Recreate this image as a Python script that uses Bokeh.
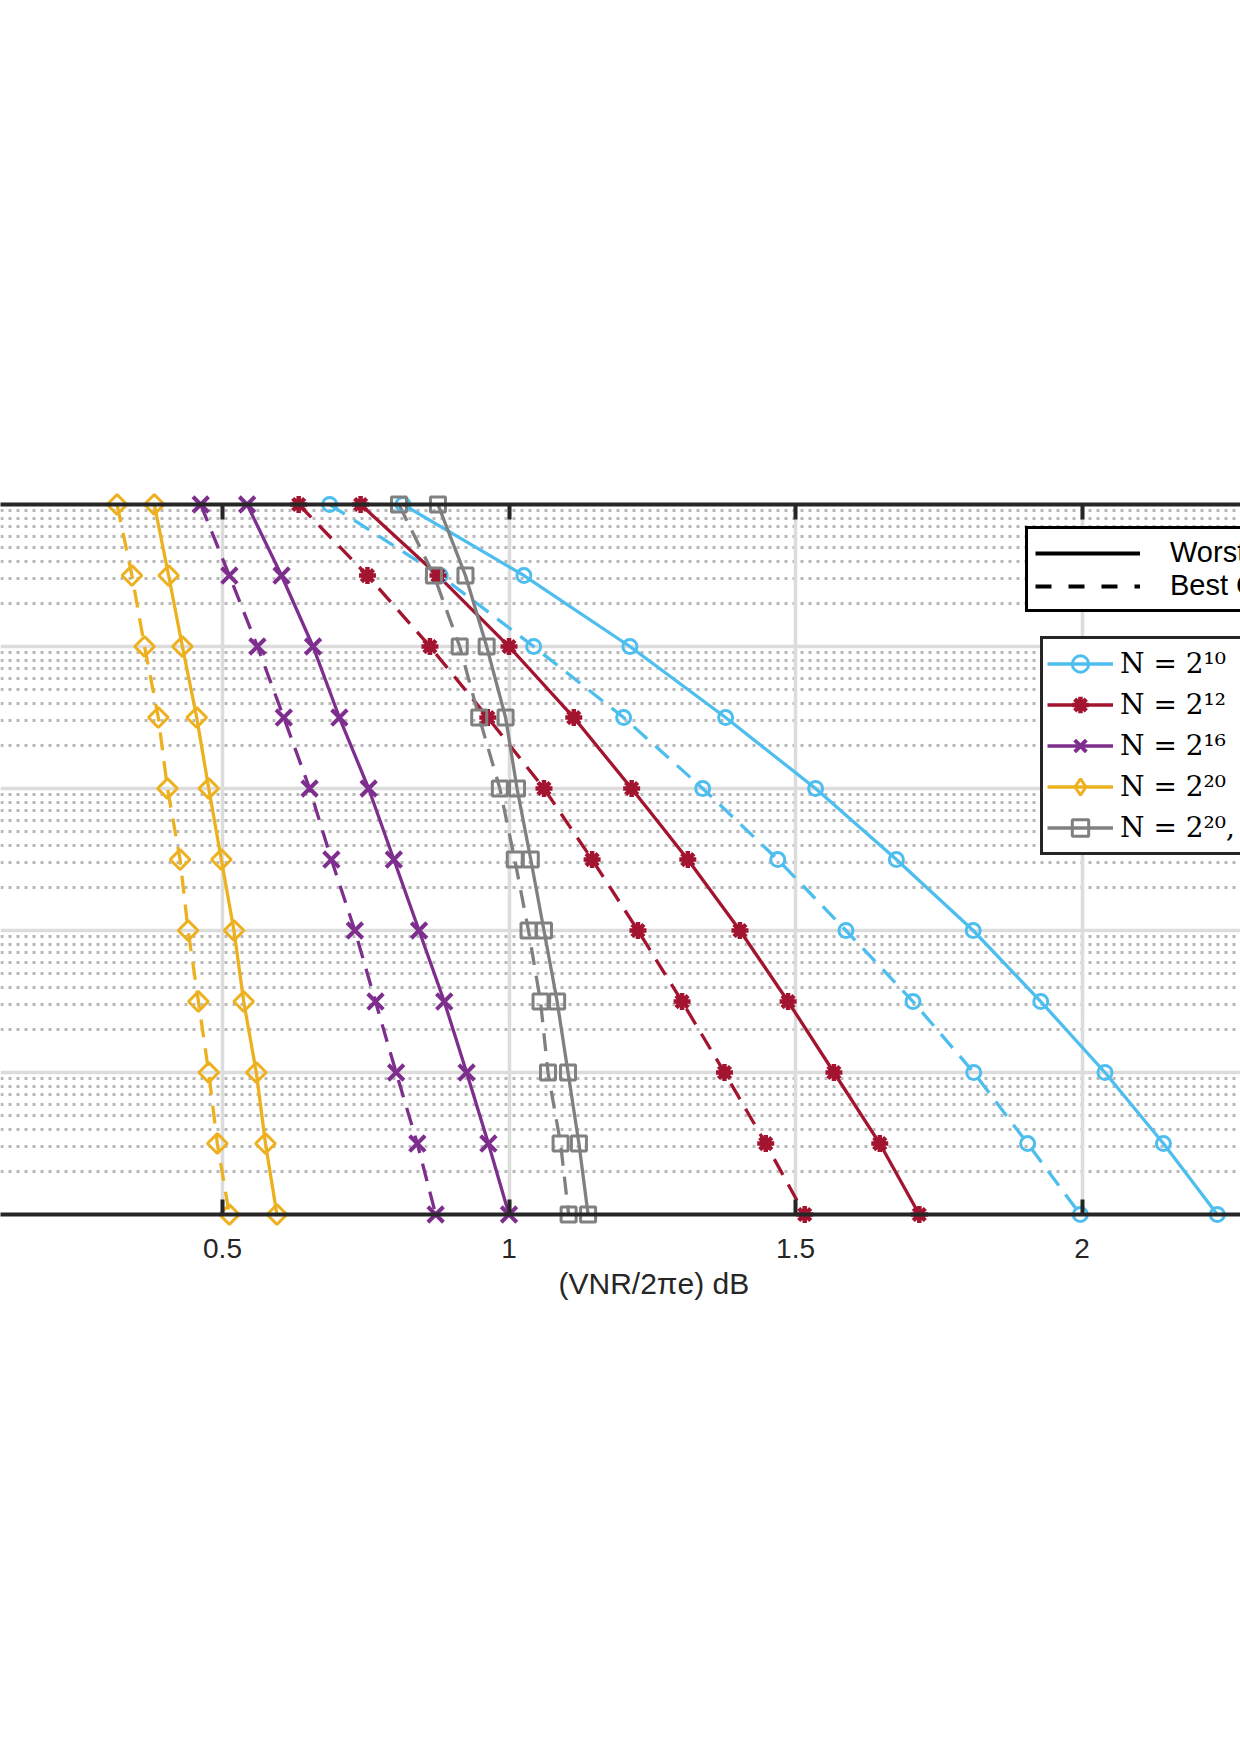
import math
from bokeh.plotting import figure
from bokeh.models import (Range1d, LinearAxis, FixedTicker, Grid, Legend, LegendItem,
                          Title, CustomJSTickFormatter)
from bokeh.embed import file_html
from bokeh.resources import INLINE

# ---------------- data ----------------
Y = [1e0, 3.16e-1, 1e-1, 3.16e-2, 1e-2, 3.16e-3, 1e-3, 3.16e-4, 1e-4, 3.16e-5, 1e-5]

N10_WORST = [0.815, 1.026, 1.211, 1.378, 1.535, 1.676, 1.810, 1.928, 2.040, 2.142, 2.236]
N10_BEST = [0.687, 0.880, 1.043, 1.200, 1.338, 1.469, 1.588, 1.705, 1.811, 1.905, 1.997]
N12_WORST = [0.741, 0.876, 1.000, 1.113, 1.214, 1.312, 1.403, 1.487, 1.567, 1.647, 1.716]
N12_BEST = [0.633, 0.753, 0.862, 0.963, 1.061, 1.145, 1.225, 1.302, 1.376, 1.448, 1.516]
N16_WORST = [0.543, 0.603, 0.658, 0.704, 0.755, 0.799, 0.843, 0.887, 0.926, 0.964, 1.000]
N16_BEST = [0.462, 0.512, 0.561, 0.607, 0.652, 0.690, 0.731, 0.767, 0.803, 0.840, 0.872]
N20_WORST = [0.381, 0.406, 0.430, 0.455, 0.476, 0.498, 0.520, 0.537, 0.559, 0.575, 0.595]
N20_BEST = [0.316, 0.342, 0.364, 0.388, 0.404, 0.426, 0.440, 0.458, 0.476, 0.491, 0.512]
N20B_WORST = [0.876, 0.924, 0.961, 0.994, 1.014, 1.038, 1.061, 1.084, 1.103, 1.122, 1.138]
N20B_BEST = [0.808, 0.869, 0.914, 0.948, 0.984, 1.010, 1.034, 1.055, 1.068, 1.090, 1.104]

LABELS = ["N = 2\u00b9\u2070", "N = 2\u00b9\u00b2", "N = 2\u00b9\u2076", "N = 2\u00b2\u2070",
          "N = 2\u00b2\u2070, \u2026"]
CASE_LABELS = ["Worst Case", "Best Case"]
X_TICKS = [0, 0.5, 1, 1.5, 2, 2.5]
X_LABEL = "(VNR/2\u03c0e) dB"

WORST = [N10_WORST, N12_WORST, N16_WORST, N20_WORST, N20B_WORST]
BEST = [N10_BEST, N12_BEST, N16_BEST, N20_BEST, N20B_BEST]

# ---------------- styles ----------------
COLORS = ["#4DBEEE", "#A2142F", "#7E2F8E", "#EDB120", "#808080"]
MARKERS = [
    dict(marker="circle", size=14, line_width=3, angle=0, legend_marker="circle"),
    dict(marker="asterisk", size=17, line_width=4.5, angle=0, legend_marker="asterisk"),
    dict(marker="x", size=22, line_width=4, angle=0, legend_marker="x"),
    dict(marker="square", size=14, line_width=3, angle=math.pi / 4, legend_marker="diamond"),
    dict(marker="square", size=15, line_width=3, angle=0, legend_marker="square"),
]
DASH = "18 11"
INK = "#262626"
NAN = float("nan")

p = figure(width=1240, height=1314,
           x_range=Range1d(0.1126, 2.2765), y_range=Range1d(1e-5, 1e0),
           y_axis_type="log", x_axis_location=None, y_axis_location=None,
           output_backend="svg", toolbar_location=None,
           min_border_left=0, min_border_right=0, min_border_top=504, min_border_bottom=100,
           outline_line_color=None, background_fill_color="white", border_fill_color="white")

# remove default grids, make our own
p.center = [r for r in p.center if not isinstance(r, Grid)]
major_y = [10.0 ** k for k in range(-6, 2)]
minor_y = [m * 10.0 ** k for k in range(-6, 1) for m in range(2, 10)]
xgrid = Grid(dimension=0, ticker=FixedTicker(ticks=X_TICKS),
             grid_line_color="#dcdcdc", grid_line_width=3.5)
ygrid = Grid(dimension=1, ticker=FixedTicker(ticks=major_y, minor_ticks=minor_y),
             grid_line_color="#dcdcdc", grid_line_width=3.5,
             minor_grid_line_color="#b8b8b8", minor_grid_line_width=3,
             minor_grid_line_dash="3 5")
p.add_layout(ygrid)
p.add_layout(xgrid)


def make_axis(labels):
    fmt = CustomJSTickFormatter(code="return tick.toString();" if labels else "return '';")
    return LinearAxis(ticker=FixedTicker(ticks=X_TICKS), formatter=fmt,
                      axis_line_width=4, axis_line_color=INK,
                      major_tick_in=15, major_tick_out=0,
                      major_tick_line_width=4, major_tick_line_color=INK,
                      minor_tick_line_color=None,
                      major_label_text_font="Liberation Sans",
                      major_label_text_font_size="28px",
                      major_label_text_color=INK, major_label_standoff=24)


p.add_layout(make_axis(True), "below")
p.add_layout(make_axis(False), "above")
p.add_layout(Title(text=X_LABEL, align="left", offset=558, standoff=9,
                   text_font="Liberation Sans", text_font_size="30px",
                   text_font_style="normal", text_color=INK), "below")

# series
items = []
for i in range(5):
    c = COLORS[i]
    m = MARKERS[i]
    lw = p.line(WORST[i], Y, line_color=c, line_width=3.3)
    p.scatter(WORST[i], Y, marker=m["marker"], size=m["size"], angle=m["angle"],
              fill_color=None, line_color=c, line_width=m["line_width"], level="guide")
    p.line(BEST[i], Y, line_color=c, line_width=3.3, line_dash=DASH)
    p.scatter(BEST[i], Y, marker=m["marker"], size=m["size"], angle=m["angle"],
              fill_color=None, line_color=c, line_width=m["line_width"], level="guide")
    lm = p.scatter([NAN], [NAN], marker=m["legend_marker"], size=m["size"],
                   fill_color=None, line_color=c, line_width=m["line_width"])
    items.append(LegendItem(label=LABELS[i], renderers=[lw, lm]))

# legend for line style
wr = p.line([NAN], [NAN], line_color="black", line_width=4)
br = p.line([NAN], [NAN], line_color="black", line_width=4, line_dash="16 17")
leg1 = Legend(items=[LegendItem(label=CASE_LABELS[0], renderers=[wr]),
                     LegendItem(label=CASE_LABELS[1], renderers=[br])],
              location=(1025, 602), margin=0, padding=7, spacing=0,
              glyph_width=105, glyph_height=32, label_height=32, label_standoff=30,
              label_text_font="Liberation Sans", label_text_font_size="29px",
              label_text_color="black", border_line_color="black", border_line_width=3,
              border_line_alpha=1.0,
              background_fill_color="white", background_fill_alpha=1.0)
leg2 = Legend(items=items, location=(1040, 359), margin=0, padding=4, spacing=0,
              glyph_width=66, glyph_height=41, label_height=41, label_standoff=7,
              label_text_font="DejaVu Serif", label_text_font_size="28px",
              label_text_color="black", border_line_color=INK, border_line_width=3,
              border_line_alpha=1.0,
              background_fill_color="white", background_fill_alpha=1.0)
p.add_layout(leg1)
p.add_layout(leg2)

open("out.html", "w").write(file_html(p, INLINE))
